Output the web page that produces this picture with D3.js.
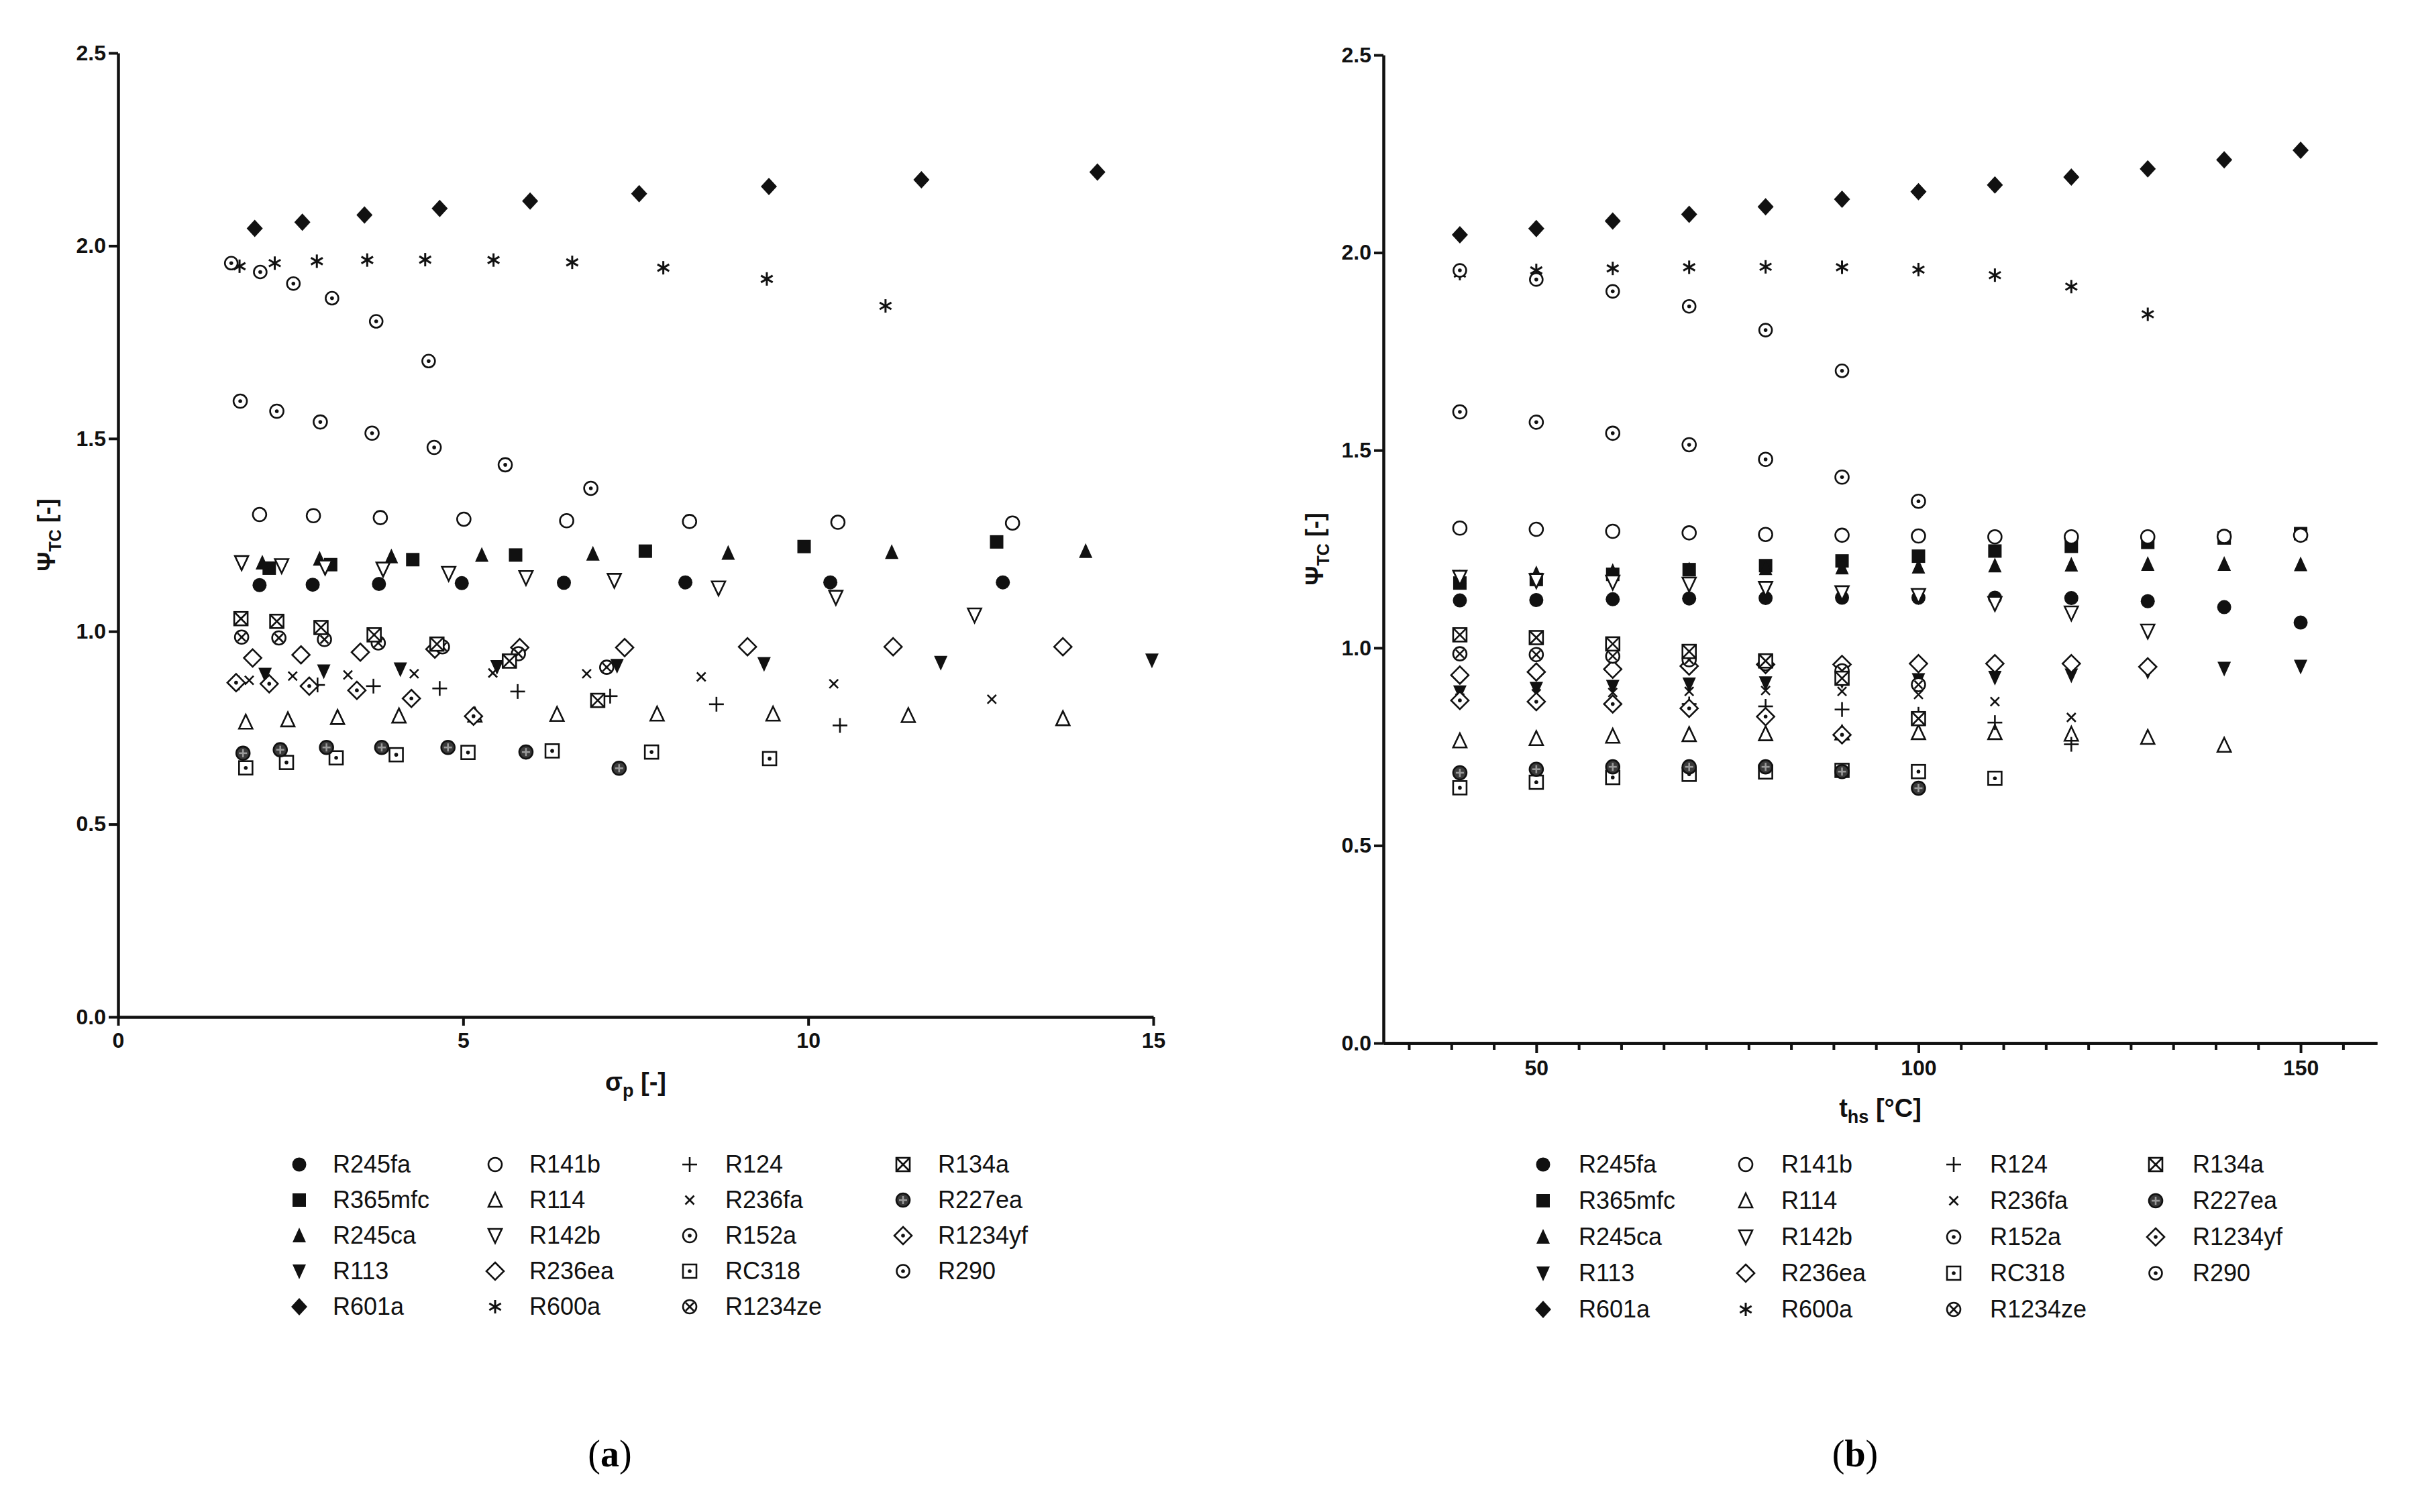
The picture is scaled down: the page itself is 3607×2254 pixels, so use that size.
<!DOCTYPE html>
<html>
<head>
<meta charset="utf-8">
<script src="https://cdn.jsdelivr.net/npm/d3@7"></script>
<style>
  body { margin: 0; background: #fff; }
  svg { display: block; }
  .tick text { font-family: "Liberation Sans", Arial, sans-serif; font-weight: bold; }
</style>
</head>
<body>
<svg id="chart" width="3607" height="2254"></svg>
<script>
// hot source temperatures (panel b abscissa)
const tHs = [40, 50, 60, 70, 80, 90, 100, 110, 120, 130, 140, 150];

const refrigerants = ["R245fa", "R365mfc", "R245ca", "R113", "R601a",
                      "R141b", "R114", "R142b", "R236ea", "R600a",
                      "R124", "R236fa", "R152a", "RC318", "R1234ze",
                      "R134a", "R227ea", "R1234yf", "R290"];

// Psi_TC per refrigerant, one value per hot source temperature from 40 °C
const psiR245fa  = [1.120, 1.121, 1.123, 1.125, 1.126, 1.127, 1.127, 1.127, 1.126, 1.118, 1.103, 1.064];
const psiR365mfc = [1.164, 1.173, 1.186, 1.198, 1.208, 1.220, 1.232, 1.245, 1.257, 1.267, 1.278, 1.289];
const psiR245ca  = [1.178, 1.188, 1.194, 1.198, 1.201, 1.203, 1.205, 1.208, 1.210, 1.212, 1.212, 1.211];
const psiR113    = [0.888, 0.897, 0.902, 0.908, 0.911, 0.916, 0.919, 0.925, 0.931, 0.940, 0.948, 0.953];
const psiR601a   = [2.045, 2.061, 2.080, 2.097, 2.116, 2.135, 2.154, 2.171, 2.191, 2.212, 2.235, 2.259];
const psiR141b   = [1.303, 1.300, 1.295, 1.291, 1.287, 1.285, 1.283, 1.281, 1.281, 1.281, 1.282, 1.285];
const psiR114    = [0.765, 0.771, 0.777, 0.781, 0.783, 0.785, 0.786, 0.786, 0.782, 0.774, 0.754];
const psiR142b   = [1.178, 1.170, 1.166, 1.161, 1.150, 1.139, 1.132, 1.112, 1.088, 1.042];
const psiR236ea  = [0.931, 0.939, 0.946, 0.954, 0.958, 0.958, 0.960, 0.960, 0.960, 0.952];
const psiR600a   = [1.947, 1.955, 1.960, 1.963, 1.964, 1.963, 1.957, 1.943, 1.914, 1.844];
const psiR124    = [0.866, 0.864, 0.861, 0.858, 0.852, 0.844, 0.832, 0.811, 0.756];
const psiR236fa  = [0.873, 0.884, 0.887, 0.890, 0.892, 0.890, 0.882, 0.864, 0.824];
const psiR152a   = [1.597, 1.571, 1.543, 1.514, 1.477, 1.432, 1.371];
const psiRC318   = [0.646, 0.660, 0.672, 0.680, 0.686, 0.690, 0.687, 0.670];
const psiR1234ze = [0.985, 0.983, 0.979, 0.970, 0.960, 0.942, 0.907];
const psiR134a   = [1.033, 1.026, 1.010, 0.991, 0.967, 0.923, 0.821];
const psiR227ea  = [0.684, 0.693, 0.699, 0.699, 0.699, 0.687, 0.645];
const psiR1234yf = [0.867, 0.864, 0.858, 0.847, 0.826, 0.780];
const psiR290    = [1.955, 1.932, 1.902, 1.864, 1.804, 1.701];

// pressure ratio sigma_p for the points that fall inside 0..15 (panel a)
const sigR245fa  = [2.05, 2.82, 3.78, 4.98, 6.46, 8.22, 10.32, 12.82];
const sigR365mfc = [2.19, 3.08, 4.27, 5.76, 7.64, 9.94, 12.73];
const sigR245ca  = [2.09, 2.92, 3.96, 5.27, 6.88, 8.84, 11.21, 14.02];
const sigR113    = [2.13, 2.98, 4.09, 5.49, 7.23, 9.36, 11.92, 14.98];
const sigR601a   = [1.98, 2.67, 3.57, 4.66, 5.97, 7.55, 9.43, 11.64, 14.19];
const sigR141b   = [2.05, 2.83, 3.80, 5.01, 6.50, 8.28, 10.43, 12.96];
const sigR114    = [1.85, 2.46, 3.18, 4.07, 5.17, 6.36, 7.81, 9.49, 11.45, 13.69];
const sigR142b   = [1.79, 2.37, 3.00, 3.84, 4.79, 5.91, 7.19, 8.70, 10.40, 12.41];
const sigR236ea  = [1.95, 2.65, 3.51, 4.59, 5.82, 7.34, 9.12, 11.23, 13.69];
const sigR600a   = [1.76, 2.27, 2.88, 3.61, 4.45, 5.44, 6.58, 7.90, 9.40, 11.12];
const sigR124    = [1.75, 2.20, 2.89, 3.70, 4.66, 5.79, 7.13, 8.67, 10.46];
const sigR236fa  = [1.90, 2.53, 3.33, 4.29, 5.43, 6.79, 8.45, 10.37, 12.66];
const sigR152a   = [1.77, 2.30, 2.93, 3.68, 4.58, 5.61, 6.85];
const sigRC318   = [1.85, 2.44, 3.16, 4.03, 5.07, 6.29, 7.73, 9.44];
const sigR1234ze = [1.79, 2.33, 2.99, 3.77, 4.70, 5.80, 7.08];
const sigR134a   = [1.78, 2.30, 2.94, 3.71, 4.62, 5.67, 6.95];
const sigR227ea  = [1.81, 2.35, 3.02, 3.82, 4.78, 5.91, 7.26];
const sigR1234yf = [1.71, 2.19, 2.77, 3.46, 4.25, 5.15];
const sigR290    = [1.64, 2.06, 2.54, 3.10, 3.74, 4.50];

const psiTicks = [0, 0.5, 1.0, 1.5, 2.0, 2.5];
const sigmaTicks = [0, 5, 10, 15];
const tTicks = [50, 100, 150];

const psiTable = {R245fa: psiR245fa, R365mfc: psiR365mfc, R245ca: psiR245ca, R113: psiR113, R601a: psiR601a,
                  R141b: psiR141b, R114: psiR114, R142b: psiR142b, R236ea: psiR236ea, R600a: psiR600a,
                  R124: psiR124, R236fa: psiR236fa, R152a: psiR152a, RC318: psiRC318, R1234ze: psiR1234ze,
                  R134a: psiR134a, R227ea: psiR227ea, R1234yf: psiR1234yf, R290: psiR290};
const sigTable = {R245fa: sigR245fa, R365mfc: sigR365mfc, R245ca: sigR245ca, R113: sigR113, R601a: sigR601a,
                  R141b: sigR141b, R114: sigR114, R142b: sigR142b, R236ea: sigR236ea, R600a: sigR600a,
                  R124: sigR124, R236fa: sigR236fa, R152a: sigR152a, RC318: sigRC318, R1234ze: sigR1234ze,
                  R134a: sigR134a, R227ea: sigR227ea, R1234yf: sigR1234yf, R290: sigR290};

// marker style of each refrigerant
const markerFor = {R245fa: "circleFill", R365mfc: "squareFill", R245ca: "triUpFill", R113: "triDownFill",
                   R601a: "diamondFill", R141b: "circle", R114: "triUp", R142b: "triDown", R236ea: "diamond",
                   R600a: "asterisk", R124: "plus", R236fa: "cross", R152a: "circleDot", RC318: "squareDot",
                   R1234ze: "circleX", R134a: "squareX", R227ea: "circleDark", R1234yf: "diamondDot", R290: "circleDotSmall"};

const svg = d3.select("#chart");
svg.append("rect").attr("width", 3607).attr("height", 2254).attr("fill", "#fff");

const ink = "#111";
const font = "'Liberation Sans', Arial, sans-serif";

function drawMarker(g, type) {
    const r = 10, sw = 2.6;
    const open = sel => sel.attr("fill", "#fff").attr("stroke", ink).attr("stroke-width", sw);
    const line = (x1, y1, x2, y2, col, w) => g.append("line")
        .attr("x1", x1).attr("y1", y1).attr("x2", x2).attr("y2", y2)
        .attr("stroke", col || ink).attr("stroke-width", w || sw);
    const dot = () => g.append("circle").attr("r", 2.8).attr("fill", ink);
    switch (type) {
        case "circleFill":
            g.append("circle").attr("r", r + 0.5).attr("fill", ink); break;
        case "squareFill":
            g.append("rect").attr("x", -r).attr("y", -r).attr("width", 2 * r).attr("height", 2 * r).attr("fill", ink); break;
        case "triUpFill":
            g.append("path").attr("d", `M0,${-r - 2}L${r},${r}L${-r},${r}Z`).attr("fill", ink); break;
        case "triDownFill":
            g.append("path").attr("d", `M${-r},${-r}L${r},${-r}L0,${r + 2}Z`).attr("fill", ink); break;
        case "diamondFill":
            g.append("path").attr("d", `M0,${-r - 3}L${r + 2},0L0,${r + 3}L${-r - 2},0Z`).attr("fill", ink); break;
        case "circle":
            g.append("circle").attr("r", r).call(open); break;
        case "triUp":
            g.append("path").attr("d", `M0,${-r - 1}L${r},${r}L${-r},${r}Z`).call(open); break;
        case "triDown":
            g.append("path").attr("d", `M${-r},${-r}L${r},${-r}L0,${r + 1}Z`).call(open); break;
        case "diamond":
            g.append("path").attr("d", `M0,${-r - 3}L${r + 3},0L0,${r + 3}L${-r - 3},0Z`).call(open); break;
        case "asterisk":
            line(0, -r, 0, r, ink, 3);
            line(-r * 0.87, -r * 0.5, r * 0.87, r * 0.5, ink, 3);
            line(-r * 0.87, r * 0.5, r * 0.87, -r * 0.5, ink, 3); break;
        case "plus":
            line(-r - 1, 0, r + 1, 0); line(0, -r - 1, 0, r + 1); break;
        case "cross":
            line(-6.5, -6.5, 6.5, 6.5); line(-6.5, 6.5, 6.5, -6.5); break;
        case "circleDot":
            g.append("circle").attr("r", r).call(open); dot(); break;
        case "circleDotSmall":
            g.append("circle").attr("r", r - 0.5).call(open); dot(); break;
        case "squareDot":
            g.append("rect").attr("x", -r).attr("y", -r).attr("width", 2 * r).attr("height", 2 * r).call(open); dot(); break;
        case "circleX":
            g.append("circle").attr("r", r).call(open);
            line(-6, -6, 6, 6); line(-6, 6, 6, -6); break;
        case "squareX":
            g.append("rect").attr("x", -r).attr("y", -r).attr("width", 2 * r).attr("height", 2 * r).call(open);
            line(-r, -r, r, r); line(-r, r, r, -r); break;
        case "circleDark":
            g.append("circle").attr("r", r).attr("fill", "#3a3a3a").attr("stroke", ink).attr("stroke-width", sw);
            line(-6, 0, 6, 0, "#9a9a9a"); line(0, -6, 0, 6, "#9a9a9a"); break;
        case "diamondDot":
            g.append("path").attr("d", `M0,${-r - 3}L${r + 3},0L0,${r + 3}L${-r - 3},0Z`).call(open); dot(); break;
    }
}

function styleAxis(g) {
    g.select(".domain").attr("stroke", ink).attr("stroke-width", 4.5);
    g.selectAll(".tick line").attr("stroke", ink).attr("stroke-width", 4);
    g.selectAll(".tick text").attr("fill", ink).attr("font-size", 32);
}

function drawPanel(cfg) {
    const x = d3.scaleLinear().domain(cfg.xDomain).range(cfg.xRange);
    const y = d3.scaleLinear().domain([0, 2.5]).range(cfg.yRange);
    const panel = svg.append("g");

    panel.append("g")
        .attr("transform", `translate(${cfg.xRange[0]},0)`)
        .call(d3.axisLeft(y).tickValues(psiTicks).tickFormat(d3.format(".1f")).tickSize(14).tickSizeOuter(0).tickPadding(4))
        .call(styleAxis);

    if (cfg.minorTicks) {
        panel.append("g")
            .attr("transform", `translate(0,${cfg.yRange[0]})`)
            .call(d3.axisBottom(x).tickValues(cfg.minorTicks).tickFormat("").tickSize(10).tickSizeOuter(0))
            .call(styleAxis);
    }
    panel.append("g")
        .attr("transform", `translate(0,${cfg.yRange[0]})`)
        .call(d3.axisBottom(x).tickValues(cfg.xTicks).tickFormat(d3.format("d")).tickSize(cfg.xTickSize).tickSizeOuter(0).tickPadding(10))
        .call(styleAxis);

    // x axis title
    const xt = panel.append("text")
        .attr("x", (cfg.xRange[0] + cfg.xRange[1]) / 2)
        .attr("y", cfg.yRange[0] + 110)
        .attr("text-anchor", "middle")
        .attr("font-family", font).attr("font-weight", "bold").attr("font-size", 38).attr("fill", ink);
    xt.append("tspan").text(cfg.xTitle[0]);
    xt.append("tspan").attr("font-size", 27).attr("dy", 9).text(cfg.xTitle[1]);
    xt.append("tspan").attr("dy", -9).text(cfg.xTitle[2]);

    // y axis title
    const yt = panel.append("text")
        .attr("transform", `translate(${cfg.yTitleX},${(cfg.yRange[0] + cfg.yRange[1]) / 2}) rotate(-90)`)
        .attr("text-anchor", "middle")
        .attr("font-family", font).attr("font-weight", "bold").attr("font-size", 36).attr("fill", ink);
    yt.append("tspan").text("Ψ");
    yt.append("tspan").attr("font-size", 25).attr("dy", 9).text("TC");
    yt.append("tspan").attr("dy", -9).text(" [-]");

    // points
    refrigerants.forEach(name => {
        const ys = psiTable[name];
        const xs = cfg.xValues(name);
        xs.forEach((xv, i) => {
            const g = panel.append("g").attr("transform", `translate(${x(xv)},${y(ys[i])})`);
            drawMarker(g, markerFor[name]);
        });
    });

    // legend
    refrigerants.forEach((name, i) => {
        const col = Math.floor(i / 5), row = i % 5;
        const ly = cfg.legendY + row * cfg.legendStep;
        const g = panel.append("g").attr("transform", `translate(${cfg.legendMarkerX[col]},${ly})`);
        drawMarker(g, markerFor[name]);
        panel.append("text")
            .attr("x", cfg.legendTextX[col]).attr("y", ly + 12)
            .attr("font-family", font).attr("font-size", 36).attr("fill", ink)
            .text(name);
    });

    // panel caption
    const cap = panel.append("text")
        .attr("x", cfg.captionX).attr("y", 2186)
        .attr("text-anchor", "middle")
        .attr("font-family", "'Liberation Serif', 'Times New Roman', serif").attr("font-size", 56).attr("fill", "#000");
    cap.append("tspan").text("(");
    cap.append("tspan").attr("font-weight", "bold").text(cfg.caption);
    cap.append("tspan").text(")");
}

// panel (a): Psi_TC vs pressure ratio
drawPanel({
    xDomain: [0, 15], xRange: [176, 1719], yRange: [1516, 79],
    xTicks: sigmaTicks, xTickSize: 13,
    xValues: name => sigTable[name],
    xTitle: ["σ", "p", " [-]"], yTitleX: 82,
    legendY: 1736, legendStep: 53,
    legendMarkerX: [446, 738, 1028, 1346], legendTextX: [496, 789, 1081, 1398],
    captionX: 909, caption: "a"
});

// panel (b): Psi_TC vs hot source temperature
const minorT = d3.range(0, 24).map(k => 50 + (k - 3) * 50 / 9).filter(v => v > 30 && v < 160 && Math.abs(v - 50) > 0.1 && Math.abs(v - 100) > 0.1 && Math.abs(v - 150) > 0.1);
drawPanel({
    xDomain: [30, 160], xRange: [2062, 3543], yRange: [1555, 82],
    xTicks: tTicks, xTickSize: 15, minorTicks: minorT,
    xValues: name => tHs.slice(0, psiTable[name].length),
    xTitle: ["t", "hs", " [°C]"], yTitleX: 1972,
    legendY: 1736, legendStep: 54,
    legendMarkerX: [2300, 2602, 2912, 3213], legendTextX: [2353, 2655, 2966, 3268],
    captionX: 2765, caption: "b"
});
</script>
</body>
</html>
